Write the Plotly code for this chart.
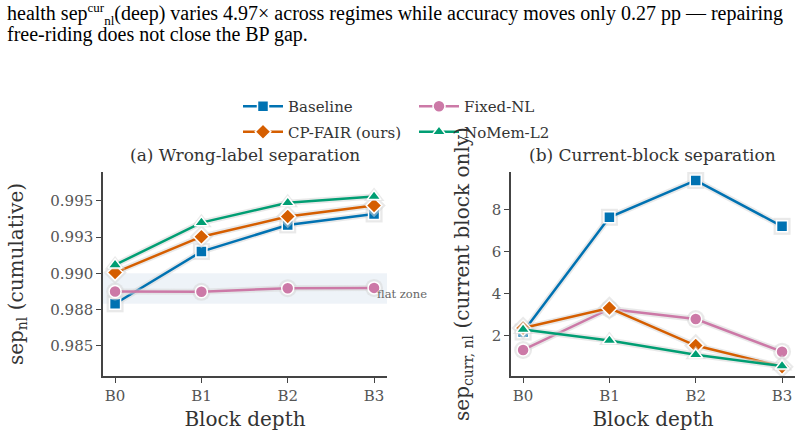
import plotly.graph_objects as go

blocks = ["B0", "B1", "B2", "B3"]
series_names = ["Baseline", "Fixed-NL", "CP-FAIR (ours)", "NoMem-L2"]
colors = ["#0072B2", "#CC79A7", "#D55E00", "#009E73"]
symbols = ["square", "circle", "diamond", "triangle-up"]
legend_slot = ["legend", "legend2", "legend", "legend2"]

sep_cum = {
    "Baseline": [0.98789, 0.9915, 0.99334, 0.9941],
    "Fixed-NL": [0.98874, 0.98872, 0.98897, 0.98899],
    "CP-FAIR (ours)": [0.99005, 0.99253, 0.99392, 0.99468],
    "NoMem-L2": [0.99058, 0.9935, 0.99488, 0.9953],
}
sep_curr = {
    "Baseline": [2.18, 7.63, 9.38, 7.2],
    "Fixed-NL": [1.33, 3.28, 2.8, 1.25],
    "CP-FAIR (ours)": [2.37, 3.32, 1.54, 0.54],
    "NoMem-L2": [2.3, 1.78, 1.1, 0.57],
}
left_tickvals = [0.985, 0.9875, 0.99, 0.9925, 0.995]
left_ticktext = ["0.985", "0.988", "0.990", "0.993", "0.995"]
right_tickvals = [2, 4, 6, 8]
flat_zone = [0.9879, 0.990]

W, H = 804, 442
def px(x):
    return x / W
def py(y):
    return 1 - y / H

SERIF = "DejaVu Serif"
fig = go.Figure()

halo = "rgba(215,215,215,0.55)"
for axes, data in (("x", sep_cum), ("x2", sep_curr)):
    yax = "y" if axes == "x" else "y2"
    for name, col, sym, lg in zip(series_names, colors, symbols, legend_slot):
        msize = 12 if sym != "square" else 11
        fig.add_trace(go.Scatter(
            x=blocks, y=data[name], xaxis=axes, yaxis=yax, mode="lines+markers",
            line=dict(color=halo, width=6),
            marker=dict(symbol=sym, size=msize + 6, color=halo, line=dict(width=0)),
            showlegend=False, hoverinfo="skip"))
        fig.add_trace(go.Scatter(
            x=blocks, y=data[name], xaxis=axes, yaxis=yax, mode="lines+markers",
            name=name, line=dict(color=col, width=2.5), legend=lg, legendgroup=name,
            marker=dict(symbol=sym, size=msize, color=col, line=dict(color="white", width=1.5)),
            showlegend=(axes == "x")))

axis_common = dict(
    type="category", range=[-0.14, 3.15], showline=True, linecolor="#444", linewidth=1.5,
    ticks="outside", ticklen=5, tickcolor="#444", tickwidth=1.2, showgrid=False, zeroline=False,
    tickfont=dict(family=SERIF, size=15, color="#555"),
    title=dict(text="Block depth", font=dict(family=SERIF, size=20, color="#333"), standoff=8),
)
yd = [py(376), py(172)]
leg_common = dict(orientation="v", y=py(90), xanchor="left", yanchor="top", itemwidth=40,
                  tracegroupgap=3, font=dict(family=SERIF, size=15, color="#333"),
                  bgcolor="rgba(0,0,0,0)")
small = "<span style='font-size:13px'>%s</span>"
fig.update_layout(
    width=W, height=H, margin=dict(l=0, r=0, t=0, b=0),
    plot_bgcolor="white", paper_bgcolor="white",
    font=dict(family=SERIF, color="#333"),
    xaxis=dict(domain=[px(103), px(387)], anchor="y", **axis_common),
    xaxis2=dict(domain=[px(511), px(795)], anchor="y2", **axis_common),
    yaxis=dict(domain=yd, anchor="x", range=[0.9829, 0.997], tickvals=left_tickvals, ticktext=left_ticktext,
               showline=True, linecolor="#444", linewidth=1.5, ticks="outside", ticklen=5, tickcolor="#444",
               showgrid=False, zeroline=False, tickfont=dict(family=SERIF, size=15, color="#555"),
               title=dict(text="sep<sub>nl</sub> (cumulative)", font=dict(family=SERIF, size=20, color="#333"), standoff=21)),
    yaxis2=dict(domain=yd, anchor="x2", range=[0.095, 9.78], tickvals=right_tickvals,
                showline=True, linecolor="#444", linewidth=1.5, ticks="outside", ticklen=5, tickcolor="#444",
                showgrid=False, zeroline=False, tickfont=dict(family=SERIF, size=15, color="#555"),
                title=dict(text="sep<sub>curr, nl</sub> (current block only)", font=dict(family=SERIF, size=20, color="#333"), standoff=17)),
    legend=dict(x=px(238), **leg_common),
    legend2=dict(x=px(414), **leg_common),
    shapes=[dict(type="rect", xref="x domain", yref="y", x0=0, x1=1, y0=flat_zone[0], y1=flat_zone[1],
                 fillcolor="rgba(200,215,232,0.3)", line=dict(width=0), layer="below")],
    annotations=[
        dict(text="(a) Wrong-label separation", xref="paper", yref="paper", x=px(245), y=py(155),
             xanchor="center", yanchor="middle", showarrow=False, font=dict(family=SERIF, size=17, color="#333")),
        dict(text="(b) Current-block separation", xref="paper", yref="paper", x=px(652), y=py(155),
             xanchor="center", yanchor="middle", showarrow=False, font=dict(family=SERIF, size=17, color="#333")),
        dict(text="flat zone", xref="x", yref="y", x=3, y=0.98855, xshift=1, xanchor="left", yanchor="middle",
             showarrow=False, font=dict(family=SERIF, size=11.5, color="#666")),
        dict(text="health sep<sup>" + small % "cur" + "</sup><sub>" + small % "nl" + "</sub>(deep) varies 4.97× across regimes while accuracy moves only 0.27 pp — repairing",
             xref="paper", yref="paper", x=px(5), y=py(13.5), xanchor="left", yanchor="middle", showarrow=False,
             font=dict(family="Liberation Serif", size=20, color="black")),
        dict(text="free-riding does not close the BP gap.",
             xref="paper", yref="paper", x=px(5), y=py(35), xanchor="left", yanchor="middle", showarrow=False,
             font=dict(family="Liberation Serif", size=20, color="black")),
    ],
)

fig.write_html("out.html")
